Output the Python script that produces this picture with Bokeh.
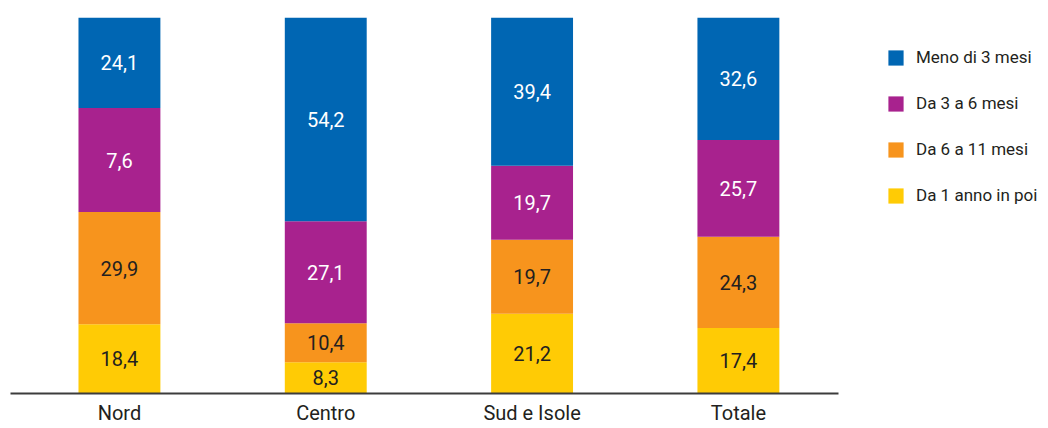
from bokeh.plotting import figure
from bokeh.models import ColumnDataSource, Legend, LegendItem, FixedTicker, Range1d
from bokeh.core.properties import value
from bokeh.embed import file_html
from bokeh.resources import INLINE

categories = ["Nord", "Centro", "Sud e Isole", "Totale"]
series_names = ["Da 1 anno in poi", "Da 6 a 11 mesi", "Da 3 a 6 mesi", "Meno di 3 mesi"]
# values as drawn (bottom to top)
da_1_anno = [18.4, 8.3, 21.2, 17.4]
da_6_a_11 = [29.9, 10.4, 19.7, 24.3]
da_3_a_6 = [27.6, 27.1, 19.7, 25.7]
meno_di_3 = [24.1, 54.2, 39.4, 32.6]
# labels as printed in the original
lab_da_1_anno = ["18,4", "8,3", "21,2", "17,4"]
lab_da_6_a_11 = ["29,9", "10,4", "19,7", "24,3"]
lab_da_3_a_6 = ["7,6", "27,1", "19,7", "25,7"]
lab_meno_di_3 = ["24,1", "54,2", "39,4", "32,6"]

series = [da_1_anno, da_6_a_11, da_3_a_6, meno_di_3]
labels = [lab_da_1_anno, lab_da_6_a_11, lab_da_3_a_6, lab_meno_di_3]
colors = ["#FFCB05", "#F7941D", "#A8228E", "#0066B3"]
text_colors = ["#231F20", "#231F20", "#FFFFFF", "#FFFFFF"]

FONT = "Roboto"

p = figure(width=1048, height=428, output_backend="svg", toolbar_location=None,
           x_range=Range1d(-0.528, 4.503), y_range=Range1d(0, 100),
           min_border_left=10, min_border_right=0, min_border_top=17, min_border_bottom=35)
p.outline_line_color = None
p.xgrid.visible = False
p.ygrid.visible = False
p.yaxis.visible = False
p.background_fill_color = None
p.border_fill_color = "white"

xs = list(range(len(categories)))
bottoms = [0.0] * len(categories)
renderers = []
for vals, labs, col, tcol in zip(series, labels, colors, text_colors):
    tops = [b + v for b, v in zip(bottoms, vals)]
    mids = [(b + t) / 2 for b, t in zip(bottoms, tops)]
    src = ColumnDataSource(dict(x=xs, bottom=bottoms, top=tops, mid=mids, lab=labs))
    r = p.vbar(x="x", bottom="bottom", top="top", width=0.397, source=src,
               fill_color=col, line_color=None)
    p.text(x="x", y="mid", text="lab", source=src, text_align="center",
           text_baseline="middle", text_color=tcol, text_font=value(FONT),
           text_font_size="20px")
    renderers.append(r)
    bottoms = tops

xaxis = p.xaxis[0]
xaxis.bounds = (-0.528, 3.485)
xaxis.ticker = FixedTicker(ticks=xs)
xaxis.major_label_overrides = {i: c for i, c in enumerate(categories)}
xaxis.major_tick_line_color = None
xaxis.major_tick_out = 0
xaxis.major_tick_in = 0
xaxis.minor_tick_line_color = None
xaxis.minor_tick_out = 0
xaxis.minor_tick_in = 0
xaxis.axis_line_color = "#3C3C3C"
xaxis.axis_line_width = 2
xaxis.major_label_text_font = FONT
xaxis.major_label_text_font_size = "20px"
xaxis.major_label_text_color = "#231F20"
xaxis.major_label_standoff = 7

items = [LegendItem(label=series_names[i], renderers=[renderers[i]]) for i in [3, 2, 1, 0]]
legend = Legend(items=items, location=(876, 186), orientation="vertical",
                glyph_width=19, glyph_height=19, label_text_font=FONT,
                label_text_font_size="17px", label_text_color="#231F20",
                label_height=24, label_standoff=11, spacing=22, padding=0, margin=0,
                border_line_color=None, background_fill_alpha=0)
p.add_layout(legend, "center")

open("out.html", "w").write(file_html(p, INLINE))
